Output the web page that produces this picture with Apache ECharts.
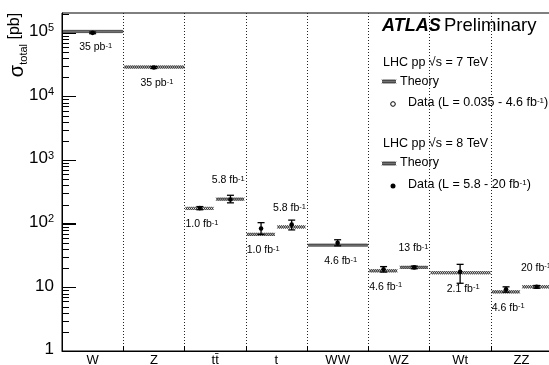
<!DOCTYPE html>
<html><head><meta charset="utf-8">
<script src="https://cdn.jsdelivr.net/npm/echarts@6/dist/echarts.min.js"></script>
<style>html,body{margin:0;padding:0;background:#fff}#c{width:549px;height:365px}</style>
</head><body><div id="c"></div>
<script>
// ---- data ----
const categories = ['W', 'Z', 't\u0074\u0304', 't', 'WW', 'WZ', 'Wt', 'ZZ'];
const measCategory = [0, 1, 2, 2, 3, 3, 4, 5, 5, 6, 7, 7];
const sqrtS = [7, 7, 7, 8, 7, 8, 7, 7, 8, 7, 7, 8];
const theory = [1.05e5, 2.9e4, 174, 243, 68, 89, 46, 18.2, 20.6, 17, 8.5, 10.2];
const measured = [1.0e5, 2.85e4, 176, 241, 84, 97, 50, 19.2, 20.6, 17.5, 9.3, 10.2];
const measLow = [9.7e4, 2.75e4, 166, 213, 68, 80, 45, 17.4, 19.6, 11.6, 8.4, 9.7];
const measHigh = [1.03e5, 2.95e4, 186, 280, 104, 114, 56, 21.2, 21.6, 23, 10.2, 10.7];
const lumi = ['35 pb', '35 pb', '1.0 fb', '5.8 fb', '1.0 fb', '5.8 fb', '4.6 fb', '4.6 fb', '13 fb', '2.1 fb', '4.6 fb', '20 fb'];
const yMin = 1, yMax = 2.05e5;

const catCount = {};
measCategory.forEach(c => catCount[c] = (catCount[c] || 0) + 1);
const half = measCategory.map((c, i) => catCount[c] > 1 ? (sqrtS[i] === 7 ? 1 : 2) : 0);

// y-axis tick values (log decades with 2..9 sub-ticks)
const yTickVals = [];
for (let k = 0; k <= 5; k++) for (let m = 1; m <= 9; m++) { const v = m * Math.pow(10, k); if (v < yMax) yTickVals.push(v); }

const FONT = '"Liberation Sans", Arial, sans-serif';

function hatchEls(x0, x1, yc, h) {
  const a = [], b = [];
  let k = 0;
  for (let x = x0; x <= x1 + 0.01; x += 2, k++) {
    a.push([x, k % 2 ? yc + h : yc - h]);
    b.push([x, k % 2 ? yc - h : yc + h]);
  }
  const st = { stroke: '#333', lineWidth: 0.9, fill: null };
  return [
    { type: 'polyline', shape: { points: a }, style: st },
    { type: 'polyline', shape: { points: b }, style: st }
  ];
}
function bandX(api, cat, h) {
  const c = api.coord([cat, 1]); const w = api.size([1, 0])[0];
  if (h === 0) return [c[0] - w / 2, c[0] + w / 2];
  if (h === 1) return [c[0] - w / 2, c[0]];
  return [c[0], c[0] + w / 2];
}
const supRich = (fs, sfs, lh) => ({
  n: { fontSize: fs, fontFamily: FONT, fill: '#000', color: '#000', lineHeight: lh, verticalAlign: 'top' },
  s: { fontSize: sfs, fontFamily: FONT, fill: '#000', color: '#000', lineHeight: sfs, verticalAlign: 'top' }
});

const chart = echarts.init(document.getElementById('c'));
chart.setOption({
  animation: false,
  backgroundColor: '#fff',
  grid: { left: 62, right: -3, top: 13, bottom: 14, show: true, borderColor: '#000', borderWidth: 1, outerBoundsMode: 'none', containLabel: false },
  xAxis: {
    type: 'category', data: categories, boundaryGap: true,
    axisLine: { show: true, lineStyle: { color: '#000', width: 1 } },
    axisTick: { show: true, inside: true, length: 5, lineStyle: { color: '#000' } },
    axisLabel: { color: '#000', fontSize: 13, fontFamily: FONT, margin: 3 },
    splitLine: { show: true, lineStyle: { color: '#222', width: 1, type: [1, 2] } }
  },
  yAxis: {
    type: 'log', logBase: 10, min: yMin, max: yMax, interval: 1,
    axisLine: { show: true, lineStyle: { color: '#000', width: 1 } },
    axisTick: { show: true, inside: true, length: 14, lineStyle: { color: '#000', width: 1 } },
    splitLine: { show: false },
    axisLabel: {
      showMaxLabel: false, margin: 8, color: '#000',
      formatter: function (v) {
        const e = Math.round(Math.log10(v));
        if (e === 0) return '{b|1}';
        if (e === 1) return '{b|10}';
        return '{b|10}{s|' + e + '}';
      },
      rich: {
        b: { fontSize: 17, fontFamily: FONT, color: '#000', lineHeight: 20, verticalAlign: 'top' },
        s: { fontSize: 11, fontFamily: FONT, color: '#000', lineHeight: 11, verticalAlign: 'top' }
      }
    }
  },
  graphic: [
    { type: 'text', x: 18, y: 45, rotation: Math.PI / 2, style: {
      text: '{a|σ}{b|total}{c| [pb]}', align: 'center', verticalAlign: 'middle',
      rich: {
        a: { fontSize: 20, fontFamily: FONT, lineHeight: 22, verticalAlign: 'top', fill: '#000' },
        b: { fontSize: 11, fontFamily: FONT, lineHeight: 12, verticalAlign: 'bottom', fill: '#000' },
        c: { fontSize: 16, fontFamily: FONT, lineHeight: 22, verticalAlign: 'top', fill: '#000' }
      } } },
    { type: 'text', x: 382, y: 26, style: {
      text: '{a|ATLAS} {b|Preliminary}', verticalAlign: 'middle',
      rich: {
        a: { fontSize: 18, fontWeight: 'bold', fontStyle: 'italic', fontFamily: FONT, fill: '#000' },
        b: { fontSize: 18.5, fontFamily: FONT, fill: '#000' }
      } } },
    { type: 'text', x: 383, y: 63, style: { text: 'LHC pp √s = 7 TeV', fontSize: 12.5, fontFamily: FONT, fill: '#000', verticalAlign: 'middle' } },
    { type: 'group', children: hatchEls(382, 396, 81.5, 2) },
    { type: 'text', x: 400, y: 82, style: { text: 'Theory', fontSize: 12.5, fontFamily: FONT, fill: '#000', verticalAlign: 'middle' } },
    { type: 'circle', shape: { cx: 393, cy: 104, r: 2.3 }, style: { fill: '#fff', stroke: '#000', lineWidth: 1 } },
    { type: 'text', x: 408, y: 104, style: { text: '{n|Data (L = 0.035 - 4.6 fb}{s|-1}{n|)}', verticalAlign: 'middle', rich: supRich(12.5, 8, 15) } },
    { type: 'text', x: 383, y: 144, style: { text: 'LHC pp √s = 8 TeV', fontSize: 12.5, fontFamily: FONT, fill: '#000', verticalAlign: 'middle' } },
    { type: 'group', children: hatchEls(382, 396, 163.5, 2) },
    { type: 'text', x: 400, y: 163, style: { text: 'Theory', fontSize: 12.5, fontFamily: FONT, fill: '#000', verticalAlign: 'middle' } },
    { type: 'circle', shape: { cx: 393, cy: 186, r: 2.5 }, style: { fill: '#000' } },
    { type: 'text', x: 408, y: 186, style: { text: '{n|Data (L = 5.8 - 20 fb}{s|-1}{n|)}', verticalAlign: 'middle', rich: supRich(12.5, 8, 15) } }
  ],
  series: [
    {
      type: 'custom', name: 'theory', encode: { x: 0, y: 1 }, silent: true,
      data: theory.map((v, i) => [measCategory[i], v, i]),
      renderItem: function (params, api) {
        const i = api.value(2); const cat = api.value(0);
        const xs = bandX(api, cat, half[i]);
        const y = api.coord([cat, api.value(1)])[1];
        let tx, ty, align;
        if (half[i] === 0) { tx = (xs[0] + xs[1]) / 2 + 3; ty = y + 17; align = 'center'; }
        else if (half[i] === 1) { tx = xs[0] + 1; ty = y + 17; align = 'left'; }
        else { tx = xs[1] - 1; ty = y - 18; align = 'right'; }
        return { type: 'group', children: hatchEls(xs[0] + 1, xs[1], y, 1.6).concat([
          { type: 'text', x: tx, y: ty, style: { text: '{n|' + lumi[i] + '}{s|-1}', align: align, verticalAlign: 'middle', rich: supRich(10.5, 7.5, 13) } }
        ]) };
      }
    },
    {
      type: 'custom', name: 'data', encode: { x: 0, y: 1 }, silent: true, z: 10,
      data: measured.map((v, i) => [measCategory[i], v, measLow[i], measHigh[i], i]),
      renderItem: function (params, api) {
        const i = api.value(4); const cat = api.value(0);
        const xs = bandX(api, cat, half[i]);
        const x = (xs[0] + xs[1]) / 2;
        const y = api.coord([cat, api.value(1)])[1];
        const yl = api.coord([cat, api.value(2)])[1];
        const yh = api.coord([cat, api.value(3)])[1];
        const st = { stroke: '#000', lineWidth: 1.3 };
        const children = [
          { type: 'line', shape: { x1: x, y1: yl, x2: x, y2: yh }, style: st },
          { type: 'line', shape: { x1: x - 3.5, y1: yl, x2: x + 3.5, y2: yl }, style: st },
          { type: 'line', shape: { x1: x - 3.5, y1: yh, x2: x + 3.5, y2: yh }, style: st },
          { type: 'circle', shape: { cx: x, cy: y, r: 2.3 }, style: { fill: '#000' } }
        ];
        if (params.dataIndex === 0) {
          const w = api.size([1, 0])[0];
          const x0 = Math.round(api.coord([0, 1])[0] - w / 2);
          yTickVals.forEach(function (v) {
            const yy = Math.round(api.coord([0, v])[1]) + 0.5;
            const len = (Math.abs(Math.log10(v) - Math.round(Math.log10(v))) < 1e-9) ? 14 : 7;
            children.push({ type: 'line', shape: { x1: x0, y1: yy, x2: x0 + len, y2: yy }, style: { stroke: '#000', lineWidth: 1 } });
          });
        }
        return { type: 'group', children: children };
      }
    }
  ]
});
</script></body></html>
